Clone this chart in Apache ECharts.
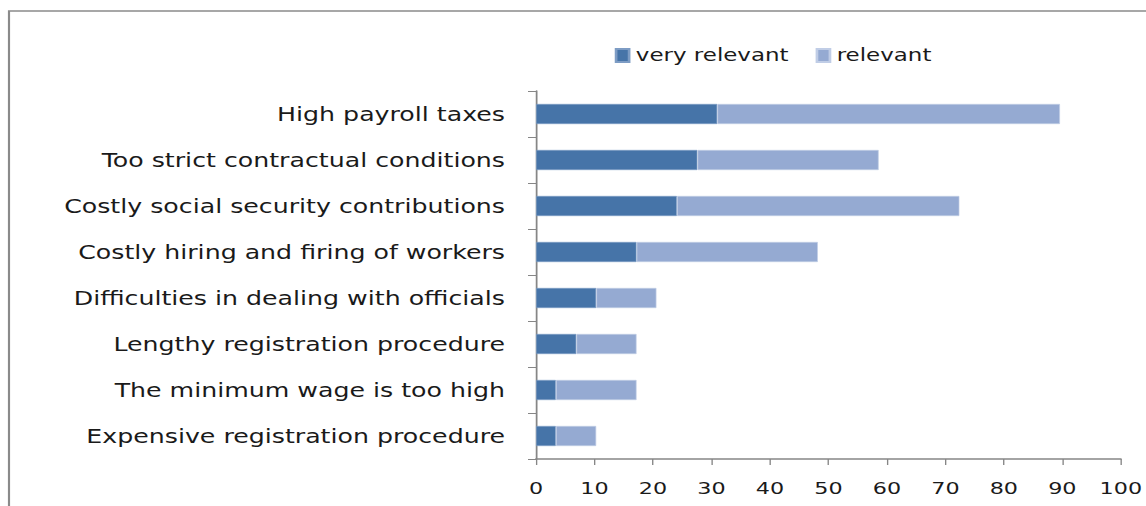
<!DOCTYPE html>
<html>
<head>
<meta charset="utf-8">
<script src="https://cdn.jsdelivr.net/npm/echarts@6/dist/echarts.min.js"></script>
<style>
  html, body { margin: 0; padding: 0; background: #fff; overflow: hidden; }
  /* The chart is laid out on a narrower box and widened, which gives the text its broad look */
  #chart {
    width: 849px;
    height: 506px;
    transform: scaleX(1.35);
    transform-origin: 0 0;
  }
</style>
</head>
<body>
<div id="chart"></div>
<script>
// Obstacles to formal hiring, share of respondents (%)
const categories = [
  'High payroll taxes',
  'Too strict contractual conditions',
  'Costly social security contributions',
  'Costly hiring and firing of workers',
  'Difficulties in dealing with officials',
  'Lengthy registration procedure',
  'The minimum wage is too high',
  'Expensive registration procedure'
];
const veryRelevant = [31.0, 27.6, 24.1, 17.2, 10.3, 6.9, 3.4, 3.4];
const relevant     = [58.6, 31.0, 48.3, 31.0, 10.3, 10.3, 13.8, 6.9];
const xTicks = [0, 10, 20, 30, 40, 50, 60, 70, 80, 90, 100];

const SX = 1.35;           // horizontal widening applied by CSS
const px = v => v / SX;    // screen-x distance -> layout distance

const FONT = 'DejaVu Sans';
const TEXT = '#1a1a1a';
const AXIS = '#868686';

const chart = echarts.init(document.getElementById('chart'), null, { renderer: 'svg' });
chart.setOption({
  animation: false,
  backgroundColor: '#ffffff',
  graphic: [{
    type: 'rect',
    shape: { x: px(9), y: 11, width: 1000, height: 700 },
    style: { fill: 'none', stroke: '#8a8a8a', lineWidth: 1.6 },
    silent: true
  }],
  legend: {
    data: ['very relevant', 'relevant'],
    left: px(608),
    top: 42,
    itemWidth: px(13),
    itemHeight: 13,
    itemGap: px(27),
    icon: 'rect',
    textStyle: { fontFamily: FONT, fontSize: 17, color: TEXT, padding: [0, 0, 0, 0] }
  },
  grid: { left: px(536), right: px(25), top: 91, bottom: 47, containLabel: false },
  xAxis: {
    type: 'value',
    min: xTicks[0],
    max: xTicks[xTicks.length - 1],
    interval: 10,
    axisLine: { show: true, lineStyle: { color: AXIS, width: 1.5 } },
    axisTick: { show: true, length: 6, lineStyle: { color: AXIS, width: 1 } },
    splitLine: { show: false },
    axisLabel: { fontFamily: FONT, fontSize: 16.5, color: TEXT, margin: 21 }
  },
  yAxis: {
    type: 'category',
    inverse: true,
    data: categories,
    axisLine: { show: true, lineStyle: { color: AXIS, width: 1.3 } },
    axisTick: { show: true, length: px(8), inside: false, lineStyle: { color: AXIS } },
    axisLabel: { fontFamily: FONT, fontSize: 18.7, color: TEXT, margin: px(31) }
  },
  series: [
    {
      name: 'very relevant',
      type: 'bar',
      stack: 'total',
      data: veryRelevant,
      barWidth: 20,
      itemStyle: { color: '#4674a8', borderColor: '#7d9cc4', borderWidth: 0.6 }
    },
    {
      name: 'relevant',
      type: 'bar',
      stack: 'total',
      data: relevant,
      barWidth: 20,
      itemStyle: { color: '#95aad2', borderColor: '#c0cde6', borderWidth: 0.6 }
    }
  ]
});
</script>
</body>
</html>
